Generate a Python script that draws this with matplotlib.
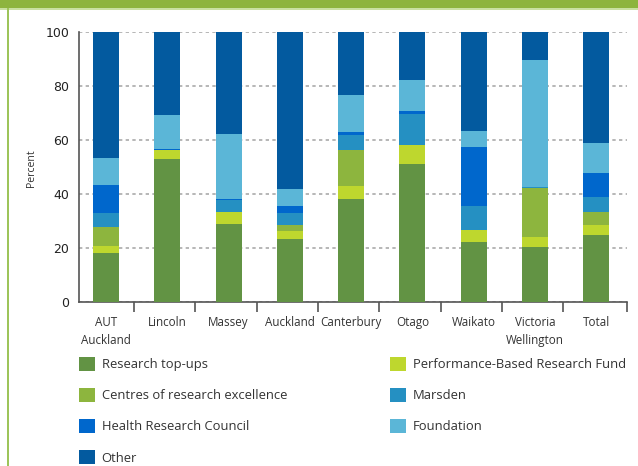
import matplotlib
matplotlib.use("Agg")
import matplotlib.pyplot as plt
from matplotlib.patches import Rectangle, Patch
import numpy as np

categories = ["AUT\nAuckland", "Lincoln", "Massey", "Auckland", "Canterbury",
              "Otago", "Waikato", "Victoria\nWellington", "Total"]

research_topups = [18.1, 53.0, 28.9, 23.3, 38.1, 51.1, 22.2, 20.4, 24.8]
pbrf            = [2.6, 3.3, 4.4, 3.0, 4.9, 7.0, 4.5, 3.7, 3.7]
core            = [7.1, 0.0, 0.0, 2.2, 13.3, 0.0, 0.0, 18.1, 4.8]
marsden         = [5.2, 0.1, 4.5, 4.5, 5.6, 11.5, 8.9, 0.4, 5.6]
hrc             = [10.3, 0.3, 0.3, 2.6, 1.1, 1.1, 21.8, 0.0, 8.9]
foundation      = [10.0, 12.6, 24.1, 6.3, 13.7, 11.5, 5.9, 47.0, 11.1]
other           = [46.7, 30.7, 37.8, 58.1, 23.3, 17.8, 36.7, 10.4, 41.1]

series_names = ["Research top-ups", "Performance-Based Research Fund",
                "Centres of research excellence", "Marsden",
                "Health Research Council", "Foundation", "Other"]
series_values = [research_topups, pbrf, core, marsden, hrc, foundation, other]
series_colors = ["#629344", "#BED72E", "#8DB53E", "#2590C2",
                 "#0067CC", "#5BB6D7", "#035A9F"]

W, H = 638, 466
fig = plt.figure(figsize=(W / 100, H / 100), dpi=100)

# frame decorations
fig.add_artist(Rectangle((0, 1 - 8 / H), 1, 8 / H, transform=fig.transFigure,
                         facecolor="#8DB43E", edgecolor="none", zorder=0))
fig.add_artist(Rectangle((0, 1 - 9.5 / H), 1, 1.5 / H, transform=fig.transFigure,
                         facecolor="#C9E0A2", edgecolor="none", zorder=0))
fig.add_artist(Rectangle((7 / W, 0), 2 / W, 1 - 8 / H, transform=fig.transFigure,
                         facecolor="#9DC45A", edgecolor="none", zorder=0))

ax_l, ax_r, ax_t, ax_b = 79, 627, 32, 302
ax = fig.add_axes([ax_l / W, 1 - ax_b / H, (ax_r - ax_l) / W, (ax_b - ax_t) / H])

x = np.arange(len(categories))
bottom = np.zeros(len(categories))
for name, vals, col in zip(series_names, series_values, series_colors):
    v = np.array(vals)
    ax.bar(x, v, bottom=bottom, width=0.425, color=col, edgecolor="none",
           label=name, zorder=3)
    bottom += v

ax.set_xlim(-0.44, 8.5)
ax.set_ylim(0, 100)
ax.set_yticks([0, 20, 40, 60, 80, 100])
ax.yaxis.grid(True, linestyle=(0, (2, 2)), color="#AAAAAA", linewidth=1.2, zorder=0)
ax.set_axisbelow(True)

lab_font = "Open Sans"
ax.set_xticks(x)
ax.set_xticklabels(categories, fontfamily=lab_font, fontsize=8.4, color="#333333",
                   linespacing=1.5)
ax.set_xticks(list(np.arange(8) + 0.46) + [8.5], minor=True)
ax.tick_params(axis="x", which="major", length=0, pad=10)
ax.tick_params(axis="x", which="minor", length=7, width=1.2, color="#555555", direction="out")
ax.tick_params(axis="y", length=0, pad=7, labelsize=9, labelcolor="#222222")

for s in ["top", "right"]:
    ax.spines[s].set_visible(False)
for s in ["left", "bottom"]:
    ax.spines[s].set_color("#555555")
    ax.spines[s].set_linewidth(1.2)

fig.text(31.5 / W, 1 - 168 / H, "Percent", rotation=90, ha="center", va="center",
         fontfamily=lab_font, fontsize=7.6, color="#333333")

handles = [Patch(facecolor=c, edgecolor="none") for c in series_colors]
fs = 9.4
col1 = [0, 2, 4, 6]
col2 = [1, 3, 5]
common = dict(frameon=False, borderpad=0, handlelength=1.22, handleheight=1.22,
              handletextpad=0.52, labelspacing=1.3, borderaxespad=0,
              prop={"family": lab_font, "size": fs}, labelcolor="#333333")
fig.legend([handles[i] for i in col1], [series_names[i] for i in col1],
           loc="upper left", bbox_to_anchor=(79 / W, 1 - 357 / H), **common)
fig.legend([handles[i] for i in col2], [series_names[i] for i in col2],
           loc="upper left", bbox_to_anchor=(390 / W, 1 - 357 / H), **common)

fig.savefig("out.png", dpi=100)
